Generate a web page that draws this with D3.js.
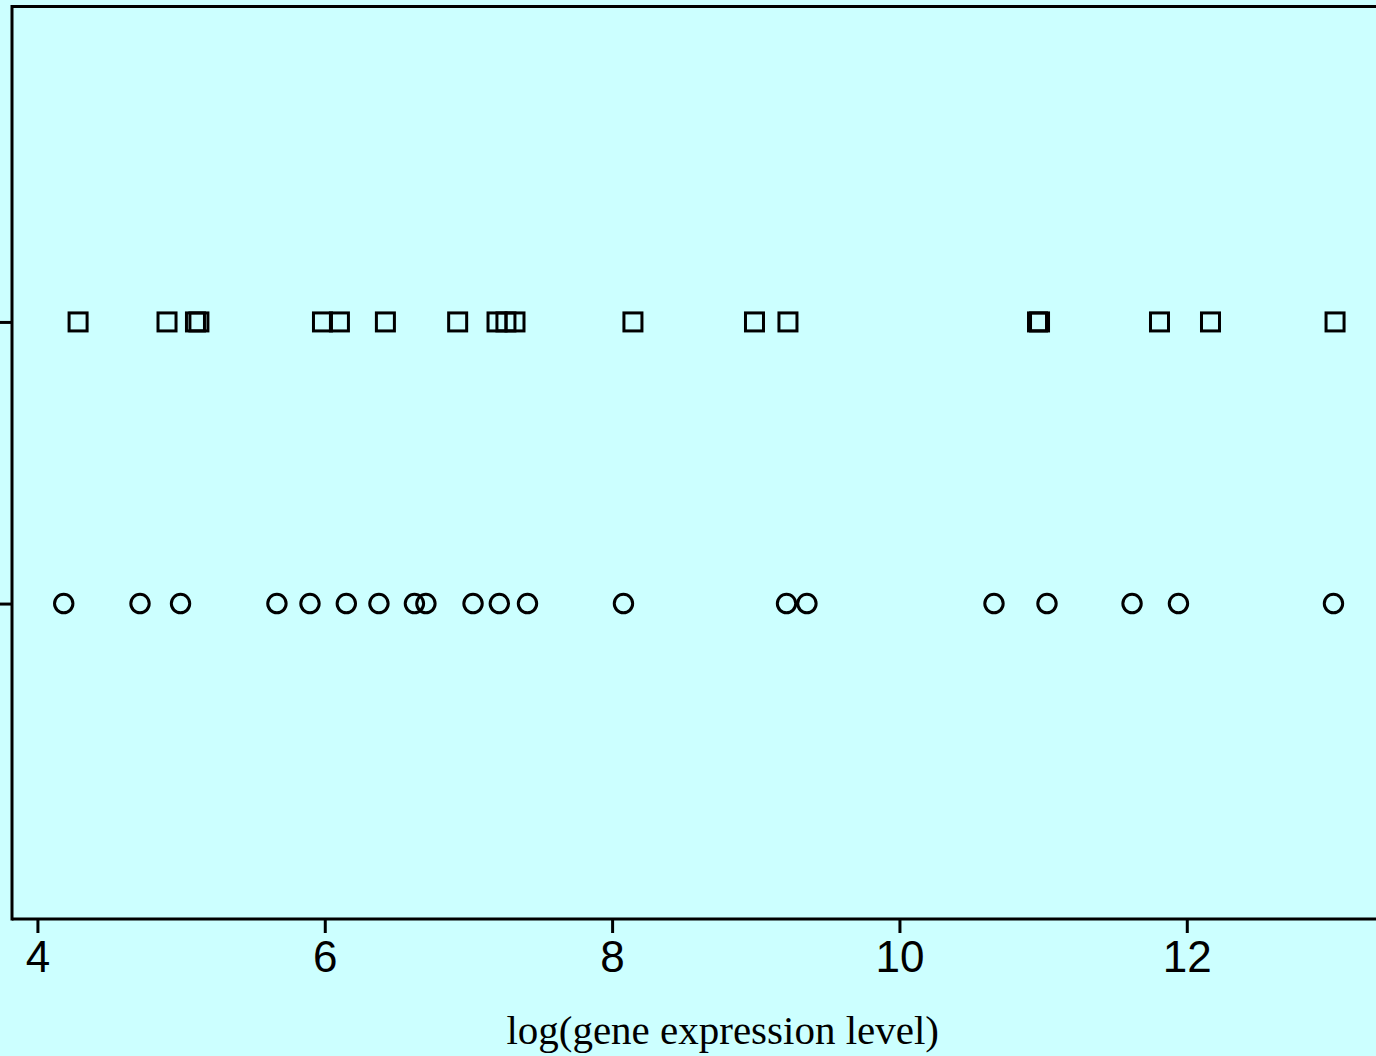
<!DOCTYPE html>
<html>
<head>
<meta charset="utf-8">
<script src="https://cdn.jsdelivr.net/npm/d3@7"></script>
<style>
  html, body { margin: 0; padding: 0; background: #ccffff; }
  svg { display: block; }
</style>
</head>
<body>
<div id="chart"></div>
<script>
// ---- data ----
const groups = ["A", "B"];              // A: squares (upper row), B: circles (lower row)
const squareValues = [4.283, 4.902, 5.100, 5.124, 5.984, 6.102, 6.422, 6.925, 7.199, 7.261, 7.324,
                      8.145, 8.991, 9.224, 10.961, 10.975, 11.810, 12.165, 13.032];
const circleValues = [4.183, 4.714, 4.996, 5.667, 5.897, 6.150, 6.377, 6.624, 6.704, 7.032, 7.215,
                      7.411, 8.079, 9.214, 9.356, 10.658, 11.027, 11.619, 11.942, 13.021];
const xTicks = [4, 6, 8, 10, 12];
const xLabel = "log(gene expression level)";

// ---- layout ----
const W = 1376, H = 1056;
const mLeft = 12, mTop = 6.5, mBottom = 919;

const svg = d3.select("#chart").append("svg")
  .attr("width", W).attr("height", H);

svg.append("rect").attr("width", W).attr("height", H).attr("fill", "#ccffff");

const x = d3.scaleLinear().domain([3.823, 13.317]).range([mLeft, W]);
const y = d3.scalePoint().domain(groups).range([mTop, mBottom]).padding(1.12);

// frame: top line
svg.append("line").attr("x1", mLeft).attr("x2", W).attr("y1", mTop).attr("y2", mTop)
  .attr("stroke", "#000").attr("stroke-width", 3);

// x axis
const xAxis = svg.append("g").attr("transform", `translate(0,${mBottom})`)
  .call(d3.axisBottom(x).tickValues(xTicks).tickSize(14).tickPadding(8).tickFormat(d3.format("d")));
xAxis.select(".domain").attr("stroke", "#000").attr("stroke-width", 3)
  .attr("d", `M${mLeft},0H${W}`);
xAxis.selectAll(".tick line").attr("stroke", "#000").attr("stroke-width", 3).attr("y1", 1);
xAxis.selectAll(".tick text")
  .attr("font-family", "'Liberation Sans', Arial, Helvetica, sans-serif")
  .attr("font-size", 44).attr("fill", "#000");

// y axis
const yAxis = svg.append("g").attr("transform", `translate(${mLeft},0)`)
  .call(d3.axisLeft(y).tickSize(12).tickFormat(""));
yAxis.select(".domain").attr("stroke", "#000").attr("stroke-width", 3)
  .attr("d", `M0,${mTop - 1.5}V${mBottom + 1.5}`);
yAxis.selectAll(".tick line").attr("stroke", "#000").attr("stroke-width", 3);

// squares
const s = 18;
svg.append("g").selectAll("rect").data(squareValues).join("rect")
  .attr("x", d => x(d) - s / 2)
  .attr("y", y("A") - s / 2)
  .attr("width", s).attr("height", s)
  .attr("fill", "none").attr("stroke", "#000").attr("stroke-width", 3);

// circles
svg.append("g").selectAll("circle").data(circleValues).join("circle")
  .attr("cx", d => x(d))
  .attr("cy", y("B"))
  .attr("r", 9.2)
  .attr("fill", "none").attr("stroke", "#000").attr("stroke-width", 3);

// x label
svg.append("text")
  .attr("x", 722.7).attr("y", 1044.3)
  .attr("text-anchor", "middle")
  .attr("font-family", "'Liberation Serif', 'Times New Roman', Times, serif")
  .attr("font-size", 41).attr("fill", "#000")
  .text(xLabel);
</script>
</body>
</html>
